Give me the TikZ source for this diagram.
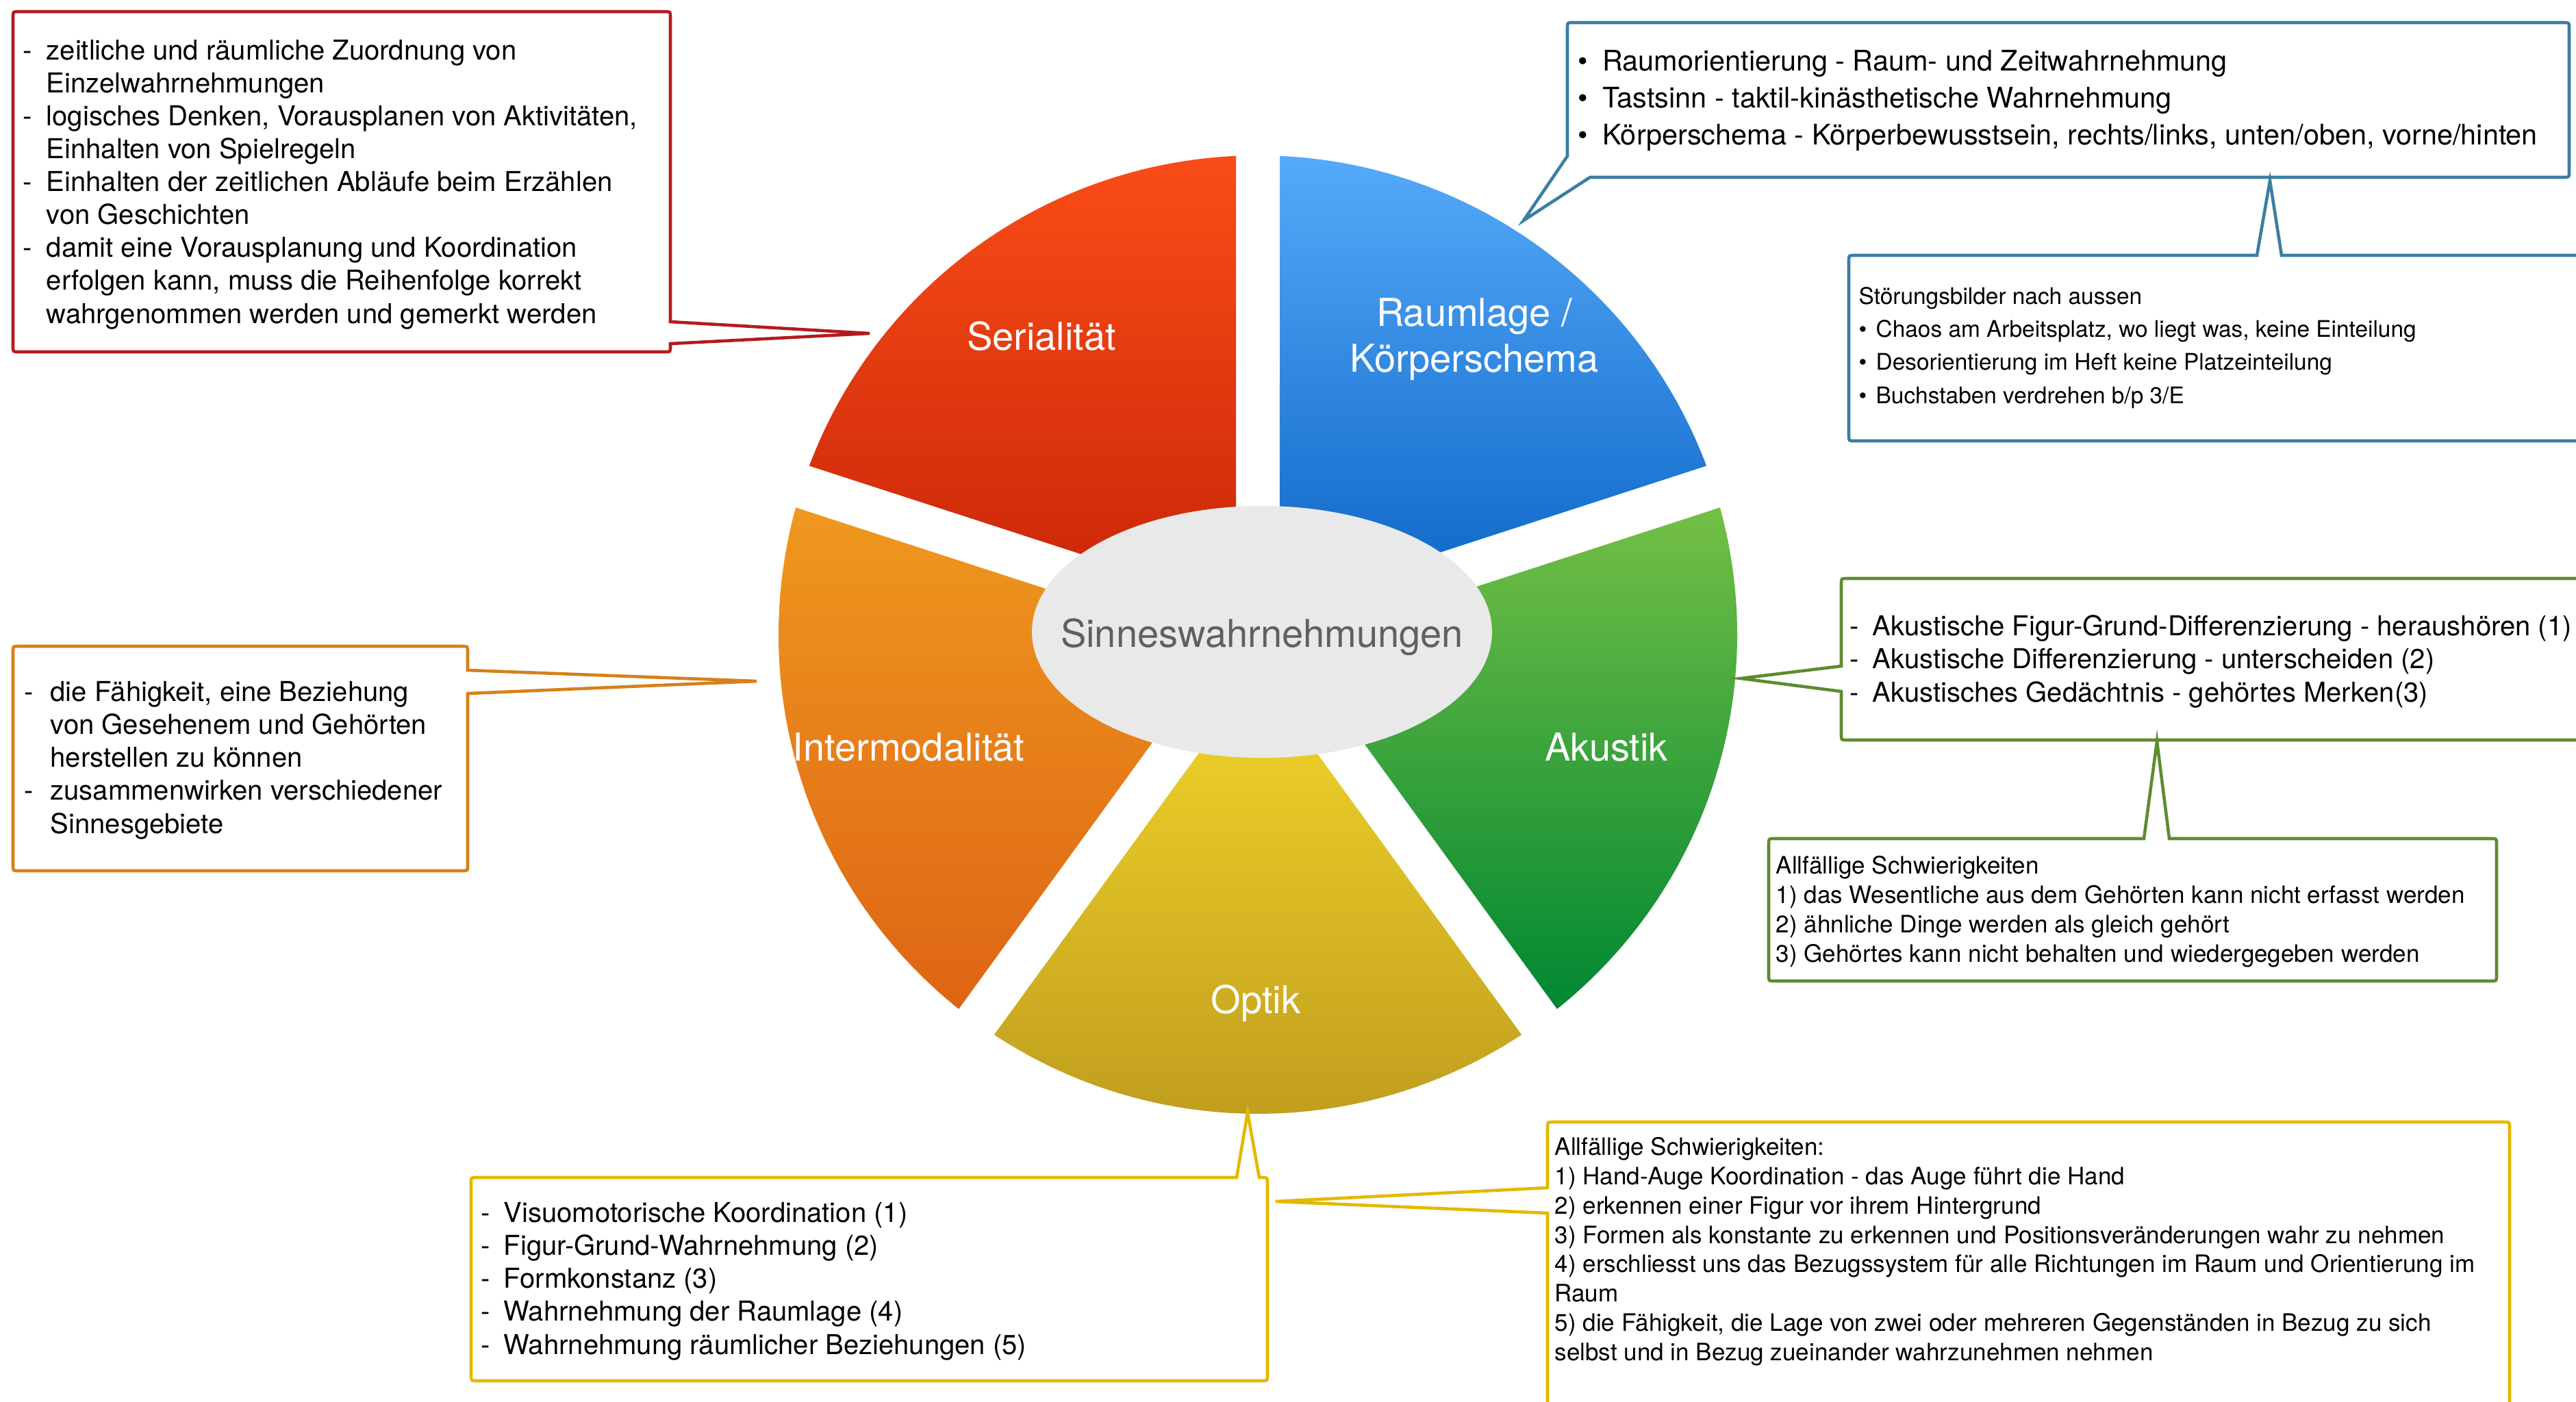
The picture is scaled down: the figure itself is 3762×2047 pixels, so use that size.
\documentclass[tikz,border=0pt]{standalone}
\usepackage{fontspec}
\setmainfont{TeX Gyre Heros}
\usetikzlibrary{calc}
\definecolor{redc}{HTML}{B21B1E}
\definecolor{bluec}{HTML}{3B7EA1}
\definecolor{greenc}{HTML}{5D8C2F}
\definecolor{orangec}{HTML}{D6801A}
\definecolor{yellowc}{HTML}{E5B800}
\definecolor{serTop}{HTML}{FA4C17}
\definecolor{serBot}{HTML}{C82608}
\definecolor{rlTop}{HTML}{55AAF9}
\definecolor{rlBot}{HTML}{0C64C6}
\definecolor{akTop}{HTML}{74BF46}
\definecolor{akBot}{HTML}{008732}
\definecolor{opTop}{HTML}{F2D62A}
\definecolor{opBot}{HTML}{BE9B1E}
\definecolor{imTop}{HTML}{EF981F}
\definecolor{imBot}{HTML}{DE6414}
\definecolor{coreFill}{HTML}{E9E9E9}
\definecolor{coreText}{HTML}{606060}
\newcommand\dl[1]{\makebox[#1][l]{-}}
\newcommand\bl[1]{\makebox[#1][l]{•}}
\newcommand\ind[1]{\hspace*{#1}}
\begin{document}
\begin{tikzpicture}[x=0.01cm,y=-0.01cm,
  box/.style={line width=1.3pt, line join=miter},
  lbl/.style={text=white, font=\fontsize{15.93pt}{18.78pt}\selectfont, inner sep=0pt},
  txtA/.style={font=\fontsize{11.38pt}{13.66pt}\selectfont, inner sep=0pt, align=left, anchor=base west},
  txtB/.style={font=\fontsize{11.78pt}{15.22pt}\selectfont, inner sep=0pt, align=left, anchor=base west},
  txtC/.style={font=\fontsize{9.5pt}{13.66pt}\selectfont, inner sep=0pt, align=left, anchor=base west},
  txtD/.style={font=\fontsize{9.96pt}{12.23pt}\selectfont, inner sep=0pt, align=left, anchor=base west},
  txtE/.style={font=\fontsize{9.96pt}{12.15pt}\selectfont, inner sep=0pt, align=left, anchor=base west}]
\useasboundingbox (0,0) rectangle (3762,2047);
\clip (0,0) rectangle (3762,2047);

\coordinate (C) at (1837,927);

% sectors
\shade[top color=rlTop, bottom color=rlBot] ($(C)+(-54:54.4)$) -- ($(C)+(-20.62:700)$) arc[start angle=-20.62, end angle=-87.38, radius=700] -- cycle;
\shade[top color=serTop, bottom color=serBot] ($(C)+(-126:54.4)$) -- ($(C)+(-92.62:700)$) arc[start angle=-92.62, end angle=-159.38, radius=700] -- cycle;
\shade[top color=imTop, bottom color=imBot] ($(C)+(-198:54.4)$) -- ($(C)+(-164.62:700)$) arc[start angle=-164.62, end angle=-231.38, radius=700] -- cycle;
\shade[top color=opTop, bottom color=opBot] ($(C)+(-270:54.4)$) -- ($(C)+(-236.62:700)$) arc[start angle=-236.62, end angle=-303.38, radius=700] -- cycle;
\shade[top color=akTop, bottom color=akBot] ($(C)+(-342:54.4)$) -- ($(C)+(-308.62:700)$) arc[start angle=-308.62, end angle=-375.38, radius=700] -- cycle;

\fill[coreFill] (1843,923) ellipse [x radius=336, y radius=184];
\node[text=coreText, font=\fontsize{15.93pt}{18.78pt}\selectfont, inner sep=0pt, anchor=base] (core) at (1843,945) {Sinneswahrnehmungen};

\node[lbl, anchor=base] (serL) at (1521,511) {Serialität};
\node[lbl, anchor=base, align=center] (rlL) at (2153,543) {Raumlage /\\Körperschema};
\node[lbl, anchor=base] (akL) at (2346,1111) {Akustik};
\node[lbl, anchor=base] (imL) at (1327,1111) {Intermodalität};
\node[lbl, anchor=base] (opL) at (1834,1480) {Optik};

% pointer tips
\coordinate (serTip) at (1270,487);
\coordinate (rlTip) at (2225,322);
\coordinate (stTip) at (3315,264);
\coordinate (akTip) at (2542,991);
\coordinate (akTipB) at (3150,1083);
\coordinate (imTip) at (1105,995);
\coordinate (opTip) at (1822,1625);
\coordinate (opTipB) at (1863,1755);

% red box
\draw[box, draw=redc] (27,17) -- (971,17) .. controls (979,17) .. (979,25) -- (979,470) -- (serTip) -- (979,502) -- (979,506) .. controls (979,514) .. (971,514) -- (27,514) .. controls (19,514) .. (19,506) -- (19,25) .. controls (19,17) .. (27,17) -- cycle;
\node[txtA] (serT) at (33,472) {\dl{9.7pt}zeitliche und räumliche Zuordnung von\\\ind{9.7pt}Einzelwahrnehmungen\\\dl{9.7pt}logisches Denken, Vorausplanen von Aktivitäten,\\\ind{9.7pt}Einhalten von Spielregeln\\\dl{9.7pt}Einhalten der zeitlichen Abläufe beim Erzählen\\\ind{9.7pt}von Geschichten\\\dl{9.7pt}damit eine Vorausplanung und Koordination\\\ind{9.7pt}erfolgen kann, muss die Reihenfolge korrekt\\\ind{9.7pt}wahrgenommen werden und gemerkt werden};

% blue top box
\draw[box, draw=bluec] (2297,33) -- (3744,33) .. controls (3752,33) .. (3752,41) -- (3752,251) .. controls (3752,259) .. (3744,259) -- (2322,259) -- (rlTip) -- (2289,228) -- (2289,41) .. controls (2289,33) .. (2297,33) -- cycle;
\node[txtB] (rlT) at (2304,211) {\bl{10.2pt}Raumorientierung - Raum- und Zeitwahrnehmung\\\bl{10.2pt}Tastsinn - taktil-kinästhetische Wahrnehmung\\\bl{10.2pt}Körperschema - Körperbewusstsein, rechts/links, unten/oben, vorne/hinten};

% blue bottom box
\draw[box, draw=bluec] (3800,373) -- (3332,373) -- (stTip) -- (3296,373) -- (2708,373) .. controls (2700,373) .. (2700,381) -- (2700,636) .. controls (2700,644) .. (2708,644) -- (3800,644);
\node[txtC] (stT) at (2714,589) {Störungsbilder nach aussen\\\bl{7.1pt}Chaos am Arbeitsplatz, wo liegt was, keine Einteilung\\\bl{7.1pt}Desorientierung im Heft keine Platzeinteilung\\\bl{7.1pt}Buchstaben verdrehen b/p 3/E};

% green top box
\draw[box, draw=greenc] (3800,845) -- (2697,845) .. controls (2689,845) .. (2689,853) -- (2689,973) -- (akTip) -- (2689,1010) -- (2689,1073) .. controls (2689,1081) .. (2697,1081) -- (3800,1081);
\node[txtA] (akT) at (2701,1025) {\dl{9.4pt}Akustische Figur-Grund-Differenzierung - heraushören (1)\\\dl{9.4pt}Akustische Differenzierung - unterscheiden (2)\\\dl{9.4pt}Akustisches Gedächtnis - gehörtes Merken(3)};

% green bottom box
\draw[box, draw=greenc] (2591,1225) -- (3131,1225) -- (akTipB) -- (3168,1225) -- (3638,1225) .. controls (3646,1225) .. (3646,1233) -- (3646,1425) .. controls (3646,1433) .. (3638,1433) -- (2591,1433) .. controls (2583,1433) .. (2583,1425) -- (2583,1233) .. controls (2583,1225) .. (2591,1225) -- cycle;
\node[txtD] (akS) at (2593,1405) {Allfällige Schwierigkeiten\\1) das Wesentliche aus dem Gehörten kann nicht erfasst werden\\2) ähnliche Dinge werden als gleich gehört\\3) Gehörtes kann nicht behalten und wiedergegeben werden};

% orange box
\draw[box, draw=orangec] (27,944) -- (675,944) .. controls (683,944) .. (683,952) -- (683,979) -- (imTip) -- (683,1013) -- (683,1264) .. controls (683,1272) .. (675,1272) -- (27,1272) .. controls (19,1272) .. (19,1264) -- (19,952) .. controls (19,944) .. (27,944) -- cycle;
\node[txtA] (imT) at (35,1217) {\dl{10.8pt}die Fähigkeit, eine Beziehung\\\ind{10.8pt}von Gesehenem und Gehörten\\\ind{10.8pt}herstellen zu können\\\dl{10.8pt}zusammenwirken verschiedener\\\ind{10.8pt}Sinnesgebiete};

% yellow left box
\draw[box, draw=yellowc] (696,1720) -- (1806,1720) -- (opTip) -- (1839,1720) -- (1843,1720) .. controls (1851,1720) .. (1851,1728) -- (1851,2009) .. controls (1851,2017) .. (1843,2017) -- (696,2017) .. controls (688,2017) .. (688,2009) -- (688,1728) .. controls (688,1720) .. (696,1720) -- cycle;
\node[txtA] (opT) at (702,1978) {\dl{9.4pt}Visuomotorische Koordination (1)\\\dl{9.4pt}Figur-Grund-Wahrnehmung (2)\\\dl{9.4pt}Formkonstanz (3)\\\dl{9.4pt}Wahrnehmung der Raumlage (4)\\\dl{9.4pt}Wahrnehmung räumlicher Beziehungen (5)};

% yellow right box
\draw[box, draw=yellowc] (2260,2100) -- (2260,1772) -- (opTipB) -- (2260,1735) -- (2260,1647) .. controls (2260,1639) .. (2268,1639) -- (3657,1639) .. controls (3665,1639) .. (3665,1647) -- (3665,2100);
\node[txtE] (opS) at (2270,1987) {Allfällige Schwierigkeiten:\\1) Hand-Auge Koordination - das Auge führt die Hand\\2) erkennen einer Figur vor ihrem Hintergrund\\3) Formen als konstante zu erkennen und Positionsveränderungen wahr zu nehmen\\4) erschliesst uns das Bezugssystem für alle Richtungen im Raum und Orientierung im\\Raum\\5) die Fähigkeit, die Lage von zwei oder mehreren Gegenständen in Bezug zu sich\\selbst und in Bezug zueinander wahrzunehmen nehmen};
\end{tikzpicture}
\end{document}
